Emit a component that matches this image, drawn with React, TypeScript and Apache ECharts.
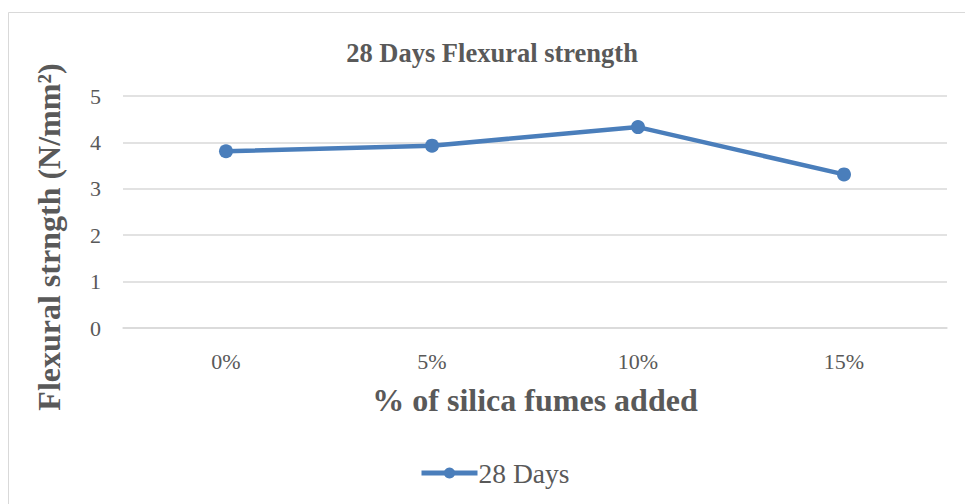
import React, { useEffect, useRef } from "react";
import * as echarts from "echarts";

const categories = ["0%", "5%", "10%", "15%"];
const seriesName = "28 Days";
const values = [3.81, 3.93, 4.33, 3.31];
const yTicks = { min: 0, max: 5, interval: 1 };

const FONT = "'Liberation Serif', 'Times New Roman', serif";
const GRAY = "#595959";
const BLUE = "#4a7ebb";

export default function App() {
  const ref = useRef<HTMLDivElement>(null);
  useEffect(() => {
    const chart = echarts.init(ref.current!, null, { renderer: "svg" });
    chart.setOption({
      animation: false,
      backgroundColor: "#ffffff",
      title: {
        text: "28 Days Flexural strength",
        left: 487,
        textAlign: "center",
        top: 34,
        textStyle: { fontFamily: FONT, fontWeight: "bold", fontSize: 26.5, color: GRAY },
      },
      graphic: [
        {
          type: "rect",
          shape: { x: 8.5, y: 12.5, width: 1000, height: 600 },
          style: { fill: "none", stroke: "#d9d9d9", lineWidth: 1 },
          silent: true,
        },
      ],
      grid: { left: 123, right: 18, top: 96, bottom: 176 },
      legend: {
        bottom: 12,
        left: 414,
        itemWidth: 56,
        itemHeight: 14,
        itemGap: 4,
        lineStyle: { width: 5 },
        textStyle: { fontFamily: FONT, fontSize: 27.5, color: GRAY, padding: [0, 0, 0, -4] },
        data: [seriesName],
      },
      xAxis: {
        type: "category",
        data: categories,
        boundaryGap: true,
        axisLine: { show: true, lineStyle: { color: "#d9d9d9", width: 1.5 } },
        axisTick: { show: false },
        axisLabel: { fontFamily: FONT, fontSize: 22, color: GRAY, margin: 22 },
        name: "% of silica fumes added",
        nameLocation: "middle",
        nameGap: 56,
        nameTextStyle: { fontFamily: FONT, fontWeight: "bold", fontSize: 32, color: GRAY },
      },
      yAxis: {
        type: "value",
        min: yTicks.min,
        max: yTicks.max,
        interval: yTicks.interval,
        axisLine: { show: false },
        axisTick: { show: false },
        splitLine: { lineStyle: { color: "#d9d9d9", width: 1.5 } },
        axisLabel: { fontFamily: FONT, fontSize: 22, color: GRAY, margin: 22 },
        name: "Flexural strngth (N/mm²)",
        nameLocation: "middle",
        nameGap: 58,
        nameTextStyle: {
          fontFamily: FONT,
          fontWeight: "bold",
          fontSize: 32,
          color: GRAY,
          padding: [0, 50, 0, 0],
        },
      },
      series: [
        {
          name: seriesName,
          type: "line",
          data: values,
          symbol: "circle",
          symbolSize: 14,
          lineStyle: { color: BLUE, width: 4.5 },
          itemStyle: { color: BLUE },
        },
      ],
    });
    return () => chart.dispose();
  }, []);
  return (
    <div
      ref={ref}
      style={{ position: "fixed", left: 0, top: 0, width: 965, height: 504 }}
    />
  );
}
